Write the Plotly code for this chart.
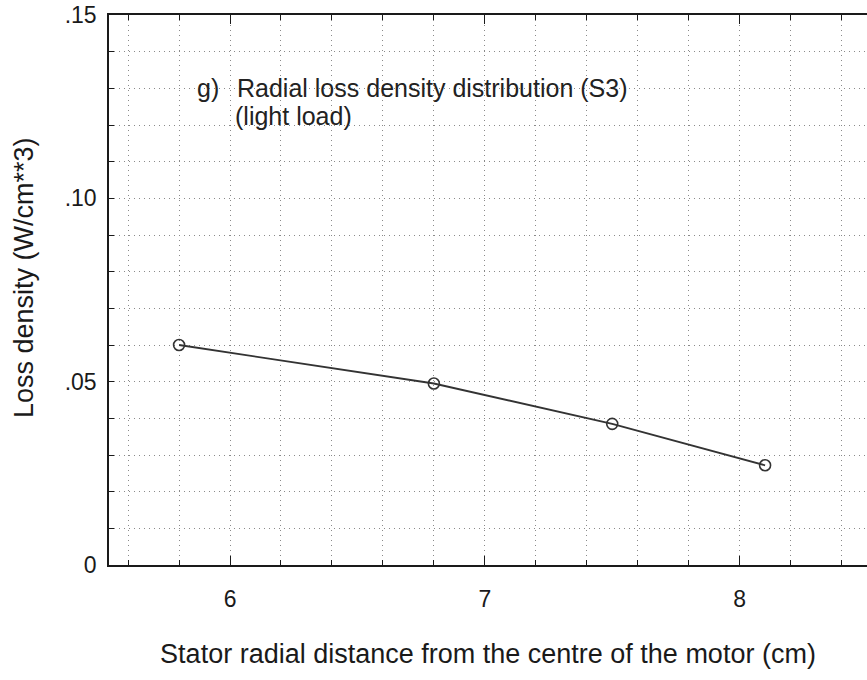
import plotly.graph_objects as go

# Data
radial_cm = [5.8, 6.8, 7.5, 8.1]
loss_density = [0.060, 0.0495, 0.0385, 0.0272]

x_tick_vals = [6, 7, 8]
x_tick_text = ["6", "7", "8"]
y_tick_vals = [0, 0.05, 0.10, 0.15]
y_tick_text = ["0", ".05", ".10", ".15"]

FONT = "Liberation Sans, Arial, sans-serif"
INK = "#1a1a1a"
GRID = "#8a8a8a"
DOT = "1px,4px"

fig = go.Figure()
fig.add_trace(go.Scatter(
    x=radial_cm, y=loss_density, mode="lines+markers",
    line=dict(color="#333333", width=1.8),
    marker=dict(symbol="circle-open", size=11, color="#333333", line=dict(width=1.6)),
    showlegend=False, cliponaxis=False,
))

fig.update_layout(
    width=867, height=680,
    margin=dict(l=109, r=0, t=15, b=115),
    paper_bgcolor="white", plot_bgcolor="white",
    font=dict(family=FONT, color=INK),
    xaxis=dict(
        range=[5.525, 8.5],
        tickvals=x_tick_vals, ticktext=x_tick_text,
        tickfont=dict(size=23, color=INK),
        ticks="inside", ticklen=9, tickwidth=1, tickcolor=INK,
        ticklabelstandoff=12,
        showline=True, linecolor=INK, linewidth=2, mirror="ticks",
        showgrid=True, gridcolor=GRID, griddash=DOT, gridwidth=1,
        minor=dict(dtick=0.2, tick0=6, ticks="inside", ticklen=5, tickcolor=INK,
                   showgrid=True, gridcolor=GRID, griddash=DOT, gridwidth=1),
        zeroline=False,
        title=dict(text="Stator radial distance from the centre of the motor (cm)",
                   font=dict(size=27, color=INK), standoff=34),
    ),
    yaxis=dict(
        range=[0, 0.15],
        tickvals=y_tick_vals, ticktext=y_tick_text,
        tickfont=dict(size=23, color=INK),
        ticks="inside", ticklen=5, tickwidth=1, tickcolor=INK,
        ticklabelstandoff=6,
        showline=True, linecolor=INK, linewidth=1.5, mirror=False,
        showgrid=True, gridcolor=GRID, griddash=DOT, gridwidth=1,
        minor=dict(dtick=0.01, tick0=0, ticks="inside", ticklen=5, tickcolor=INK,
                   showgrid=True, gridcolor=GRID, griddash=DOT, gridwidth=1),
        zeroline=False,
    ),
    annotations=[
        dict(text="Loss density (W/cm**3)", textangle=-90,
             xref="paper", yref="paper", x=0, y=0.5218, xshift=-85,
             xanchor="center", yanchor="middle", showarrow=False,
             font=dict(size=27, color=INK, family=FONT)),
        dict(text="g)", xref="x", yref="y", x=5.863, y=0.1301,
             xanchor="left", yanchor="middle", showarrow=False,
             font=dict(size=25, color="#222222", family=FONT)),
        dict(text="Radial loss density distribution (S3)", xref="x", yref="y",
             x=6.02, y=0.1301, xanchor="left", yanchor="middle", showarrow=False,
             font=dict(size=25, color="#222222", family=FONT)),
        dict(text="(light load)", xref="x", yref="y", x=6.012, y=0.1225,
             xanchor="left", yanchor="middle", showarrow=False,
             font=dict(size=25, color="#222222", family=FONT)),
    ],
)

fig.write_html("out.html")
